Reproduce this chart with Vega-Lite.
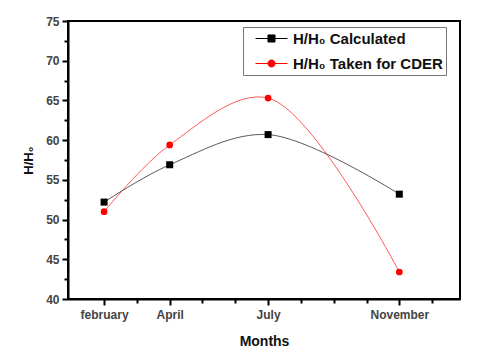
{
  "$schema": "https://vega.github.io/schema/vega-lite/v6.json",
  "width": 392,
  "height": 278,
  "autosize": {"type": "none"},
  "padding": {"left": 68, "top": 21, "right": 20, "bottom": 58},
  "background": "white",
  "data": {
    "values": [
      {"month": 2, "series": "H/H₀ Calculated", "value": 52.2},
      {"month": 4, "series": "H/H₀ Calculated", "value": 56.9},
      {"month": 7, "series": "H/H₀ Calculated", "value": 60.7},
      {"month": 11, "series": "H/H₀ Calculated", "value": 53.2},
      {"month": 2, "series": "H/H₀ Taken for CDER", "value": 51.0},
      {"month": 4, "series": "H/H₀ Taken for CDER", "value": 59.4},
      {"month": 7, "series": "H/H₀ Taken for CDER", "value": 65.3},
      {"month": 11, "series": "H/H₀ Taken for CDER", "value": 43.4}
    ]
  },
  "encoding": {
    "x": {
      "field": "month",
      "type": "quantitative",
      "scale": {"domain": [0.9, 12.85], "nice": false, "zero": false},
      "axis": {
        "title": "Months",
        "values": [2, 3, 4, 5, 6, 7, 8, 9, 10, 11, 12],
        "labelExpr": "datum.value == 2 ? 'february' : datum.value == 4 ? 'April' : datum.value == 7 ? 'July' : datum.value == 11 ? 'November' : ''",
        "grid": false,
        "labelOverlap": false,
        "tickSize": {"condition": {"test": "datum.value == 2 || datum.value == 4 || datum.value == 7 || datum.value == 11", "value": 6}, "value": 4},
        "labelPadding": 4,
        "titlePadding": 14,
        "titleFontSize": 14
      }
    },
    "y": {
      "field": "value",
      "type": "quantitative",
      "scale": {"domain": [40, 75], "nice": false, "zero": false},
      "axis": {
        "title": "H/H₀",
        "values": [40, 42.5, 45, 47.5, 50, 52.5, 55, 57.5, 60, 62.5, 65, 67.5, 70, 72.5, 75],
        "labelExpr": "datum.value % 5 === 0 ? datum.label : ''",
        "grid": false,
        "labelOverlap": false,
        "tickSize": {"condition": {"test": "datum.value % 5 === 0", "value": 6}, "value": 4},
        "labelPadding": 3,
        "titlePadding": 10
      }
    },
    "color": {
      "field": "series",
      "type": "nominal",
      "scale": {"domain": ["H/H₀ Calculated", "H/H₀ Taken for CDER"], "range": ["#000000", "#ff0000"]},
      "legend": {
        "title": null,
        "orient": "none",
        "legendX": 175,
        "legendY": 6,
        "padding": 3,
        "strokeColor": "#777777",
        "fillColor": "white",
        "labelFont": "Liberation Sans",
        "labelFontSize": 15,
        "labelFontWeight": "bold",
        "labelColor": "#111111",
        "symbolSize": 256,
        "symbolOffset": 17,
        "labelOffset": 13,
        "rowPadding": 8,
        "encode": {
          "symbols": {
            "update": {
              "shape": {"signal": "datum.value === 'H/H₀ Calculated' ? 'M-2,0H2M-0.44,-0.44H0.44V0.44H-0.44Z' : 'M-2,0H2M0.44,0A0.44,0.44,0,1,1,-0.44,0A0.44,0.44,0,1,1,0.44,0Z'"},
              "fill": {"signal": "datum.value === 'H/H₀ Calculated' ? '#000000' : '#ff0000'"},
              "stroke": {"signal": "datum.value === 'H/H₀ Calculated' ? '#555555' : '#e06666'"},
              "strokeWidth": {"value": 1},
              "opacity": {"value": 1}
            }
          }
        }
      }
    }
  },
  "layer": [
    {
      "mark": {"type": "line", "interpolate": "catmull-rom", "strokeWidth": 1, "strokeOpacity": 0.65}
    },
    {
      "transform": [{"filter": "datum.series === 'H/H₀ Calculated'"}],
      "mark": {"type": "square", "filled": true, "opacity": 1, "size": 49}
    },
    {
      "transform": [{"filter": "datum.series === 'H/H₀ Taken for CDER'"}],
      "mark": {"type": "circle", "filled": true, "opacity": 1, "size": 45}
    }
  ],
  "config": {
    "view": {"stroke": "black", "strokeWidth": 2},
    "axis": {
      "domainColor": "black",
      "domainWidth": 2,
      "tickColor": "black",
      "tickWidth": 2,
      "labelFont": "Liberation Sans",
      "labelFontSize": 12,
      "labelFontWeight": "bold",
      "labelColor": "#444444",
      "titleFont": "Liberation Sans",
      "titleFontSize": 13,
      "titleFontWeight": "bold",
      "titleColor": "#111111"
    }
  }
}
